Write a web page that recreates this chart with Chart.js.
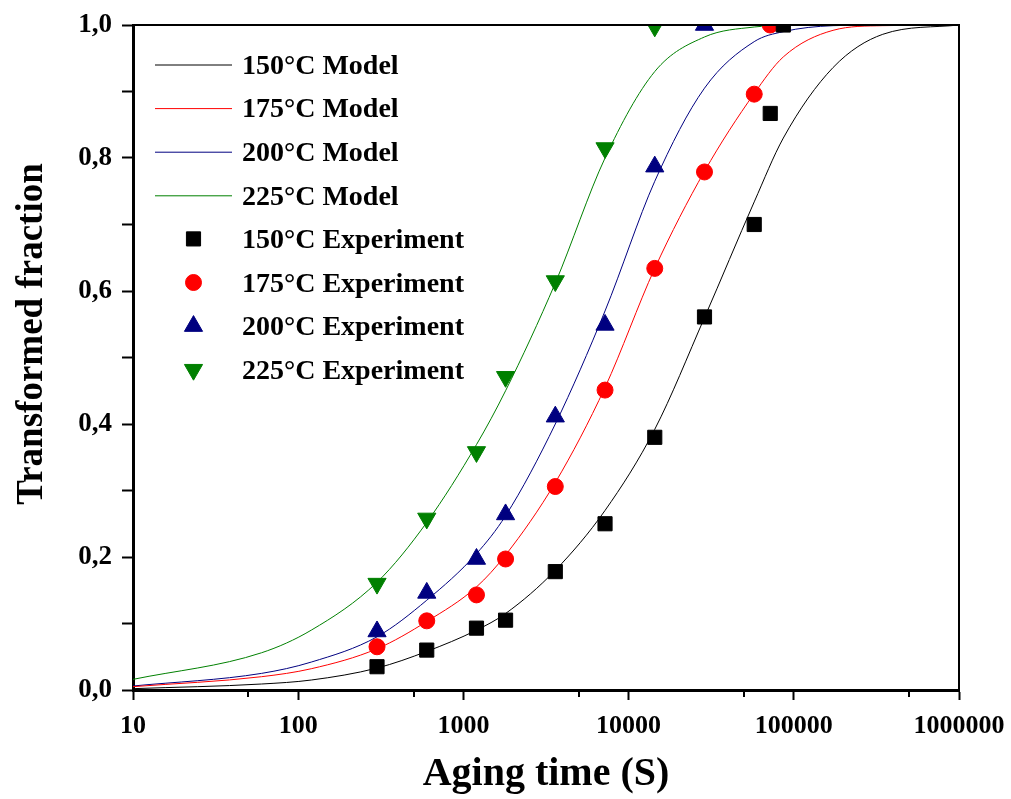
<!DOCTYPE html>
<html>
<head>
<meta charset="utf-8">
<title>Transformed fraction vs aging time</title>
<script src="https://cdn.jsdelivr.net/npm/chart.js@4.4.1/dist/chart.umd.min.js"></script>
<style>
  html, body { margin: 0; padding: 0; background: #ffffff; }
  #wrap { width: 1011px; height: 799px; position: relative; }
  canvas { display: block; }
</style>
</head>
<body>
<div id="wrap"><canvas id="chart" width="1011" height="799"></canvas></div>
<script>
// ---- Model curves (JMAK fit), sampled aging times in seconds ----
const modelTimes = [10, 60, 120, 300, 600, 1200, 1800, 3600, 7200, 14400, 28800, 57600, 86400, 172800, 345600, 1000000];
const model150 = [0.002, 0.009, 0.015, 0.033, 0.058, 0.090, 0.115, 0.180, 0.270, 0.392, 0.560, 0.734, 0.830, 0.936, 0.986, 1.000];
const model175 = [0.005, 0.020, 0.032, 0.062, 0.103, 0.155, 0.203, 0.312, 0.455, 0.634, 0.780, 0.897, 0.952, 0.992, 0.999, 1.000];
const model200 = [0.006, 0.025, 0.042, 0.080, 0.135, 0.205, 0.262, 0.400, 0.570, 0.765, 0.905, 0.975, 0.990, 0.999, 1.000, 1.000];
const model225 = [0.016, 0.056, 0.090, 0.162, 0.252, 0.369, 0.450, 0.612, 0.800, 0.930, 0.982, 0.997, 0.999, 1.000, 1.000, 1.000];

// ---- Measured transformed fraction ----
const expTimes150 = [300, 600, 1200, 1800, 3600, 7200, 14400, 28800, 57600, 72000, 86400];
const exp150 = [0.035, 0.060, 0.093, 0.105, 0.178, 0.250, 0.380, 0.561, 0.700, 0.867, 1.000];
const expTimes175 = [300, 600, 1200, 1800, 3600, 7200, 14400, 28800, 57600, 72000];
const exp175 = [0.065, 0.104, 0.143, 0.197, 0.306, 0.451, 0.634, 0.779, 0.896, 1.000];
const expTimes200 = [300, 600, 1200, 1800, 3600, 7200, 14400, 28800];
const exp200 = [0.088, 0.146, 0.197, 0.264, 0.411, 0.549, 0.787, 1.000];
const expTimes225 = [300, 600, 1200, 1800, 3600, 7200, 14400];
const exp225 = [0.160, 0.258, 0.358, 0.471, 0.615, 0.815, 0.998];

// ---- Axis ticks ----
const xMajorTicks = [10, 100, 1000, 10000, 100000, 1000000];
const xMinorTicks = [50, 500, 5000, 50000, 500000];
const yTicks = [0, 0.1, 0.2, 0.3, 0.4, 0.5, 0.6, 0.7, 0.8, 0.9, 1.0];
const yTickLabels = ['0,0', '', '0,2', '', '0,4', '', '0,6', '', '0,8', '', '1,0'];
const yTitle = 'Transformed fraction';
const xTitle = 'Aging time (S)';

const SERIF = '"Liberation Serif", "Times New Roman", serif';
const COLORS = { c150: '#000000', c175: '#ff0000', c200: '#000080', c225: '#008000' };

const toXY = (xs, ys) => xs.map((x, i) => ({ x: x, y: ys[i] }));

function modelSet(label, ys, color) {
  return {
    label: label,
    data: toXY(modelTimes, ys),
    borderColor: color,
    backgroundColor: color,
    borderWidth: 1,
    pointRadius: 0,
    pointHoverRadius: 0,
    pointStyle: 'line',
    cubicInterpolationMode: 'monotone',
    order: 1,
    clip: 0
  };
}

function expSet(label, xs, ys, color, style, radius, rotation) {
  return {
    label: label,
    data: toXY(xs, ys),
    showLine: false,
    borderColor: color,
    backgroundColor: color,
    pointBackgroundColor: color,
    pointBorderColor: color,
    pointBorderWidth: 1,
    pointStyle: style,
    pointRadius: radius,
    pointHoverRadius: radius,
    pointRotation: rotation || 0,
    order: 0,
    clip: 0
  };
}

// Legend drawn inside the plot area, one entry per row
const insideLegend = {
  id: 'insideLegend',
  afterDraw(chart, args, opts) {
    const ctx = chart.ctx;
    ctx.save();
    ctx.font = 'bold ' + opts.fontSize + 'px ' + SERIF;
    ctx.textBaseline = 'middle';
    ctx.textAlign = 'left';
    chart.data.datasets.forEach((ds, i) => {
      const y = opts.top + i * opts.rowGap;
      const color = ds.borderColor;
      ctx.strokeStyle = color;
      ctx.fillStyle = color;
      if (ds.showLine === false) {
        const cx = (opts.lineStart + opts.lineEnd) / 2;
        Chart.helpers.drawPoint(ctx, {
          pointStyle: ds.pointStyle,
          radius: ds.pointRadius,
          rotation: ds.pointRotation || 0,
          borderWidth: 1
        }, cx, y);
      } else {
        ctx.lineWidth = 1;
        ctx.beginPath();
        ctx.moveTo(opts.lineStart, y + 0.5);
        ctx.lineTo(opts.lineEnd, y + 0.5);
        ctx.stroke();
      }
      ctx.fillStyle = '#000000';
      ctx.fillText(ds.label, opts.textX, y + opts.textShift);
    });
    ctx.restore();
  }
};

// Top and right frame lines, the short minor ticks on the time axis,
// and the rotated title of the fraction axis
const frameAndTitles = {
  id: 'frameAndTitles',
  afterDraw(chart, args, opts) {
    const ctx = chart.ctx;
    const a = chart.chartArea;
    const xs = chart.scales.x;
    ctx.save();
    ctx.strokeStyle = '#000000';
    ctx.lineWidth = 2;
    ctx.beginPath();
    ctx.moveTo(a.left, a.top);
    ctx.lineTo(a.right, a.top);
    ctx.lineTo(a.right, a.bottom);
    ctx.stroke();
    xMinorTicks.forEach(v => {
      const px = Math.round(xs.getPixelForValue(v));
      ctx.beginPath();
      ctx.moveTo(px, a.bottom);
      ctx.lineTo(px, a.bottom + 7);
      ctx.stroke();
    });
    ctx.translate(opts.yTitleX, opts.yTitleY);
    ctx.rotate(-Math.PI / 2);
    ctx.font = 'bold ' + opts.yTitleSize + 'px ' + SERIF;
    ctx.fillStyle = '#000000';
    ctx.textAlign = 'center';
    ctx.textBaseline = 'middle';
    ctx.fillText(yTitle, 0, 0);
    ctx.restore();
  }
};

const chart = new Chart(document.getElementById('chart'), {
  type: 'line',
  data: {
    datasets: [
      modelSet('150°C Model', model150, COLORS.c150),
      modelSet('175°C Model', model175, COLORS.c175),
      modelSet('200°C Model', model200, COLORS.c200),
      modelSet('225°C Model', model225, COLORS.c225),
      expSet('150°C Experiment', expTimes150, exp150, COLORS.c150, 'rect', 10),
      expSet('175°C Experiment', expTimes175, exp175, COLORS.c175, 'circle', 8),
      expSet('200°C Experiment', expTimes200, exp200, COLORS.c200, 'triangle', 10.5),
      expSet('225°C Experiment', expTimes225, exp225, COLORS.c225, 'triangle', 10.5, 180)
    ]
  },
  options: {
    responsive: false,
    animation: false,
    devicePixelRatio: 1,
    layout: { padding: { top: 25, right: 52, bottom: 0, left: 0 } },
    plugins: {
      legend: { display: false },
      tooltip: { enabled: false },
      insideLegend: { top: 64.5, rowGap: 43.6, lineStart: 155, lineEnd: 232, textX: 242, textShift: 2, fontSize: 28 },
      frameAndTitles: { yTitleX: 32, yTitleY: 334, yTitleSize: 37 }
    },
    scales: {
      x: {
        type: 'logarithmic',
        position: 'bottom',
        min: 10,
        max: 1000000,
        afterFit: s => { s.height = 109; s.paddingLeft = 0; s.paddingRight = 0; },
        afterBuildTicks: s => { s.ticks = xMajorTicks.map(v => ({ value: v })); },
        border: { display: true, color: '#000000', width: 3 },
        grid: { display: true, drawOnChartArea: false, drawTicks: true, tickLength: 10, tickWidth: 2, tickColor: '#000000' },
        ticks: {
          autoSkip: false,
          maxRotation: 0,
          padding: 11,
          color: '#000000',
          font: { family: SERIF, size: 26, weight: 'bold' },
          callback: v => String(v)
        },
        title: {
          display: true,
          text: xTitle,
          color: '#000000',
          font: { family: SERIF, size: 40, weight: 'bold' },
          padding: { top: 0, bottom: 0 }
        }
      },
      y: {
        type: 'linear',
        position: 'left',
        min: 0,
        max: 1,
        afterFit: s => { s.width = 133; s.paddingTop = 0; s.paddingBottom = 0; },
        afterBuildTicks: s => { s.ticks = yTicks.map(v => ({ value: v })); },
        border: { display: true, color: '#000000', width: 3 },
        grid: { display: true, drawOnChartArea: false, drawTicks: true, tickLength: 11, tickWidth: 2, tickColor: '#000000' },
        ticks: {
          autoSkip: false,
          padding: 10,
          color: '#000000',
          font: { family: SERIF, size: 27, weight: 'bold' },
          callback: (v, i) => yTickLabels[i]
        },
        title: { display: false }
      }
    }
  },
  plugins: [insideLegend, frameAndTitles]
});
</script>
</body>
</html>
